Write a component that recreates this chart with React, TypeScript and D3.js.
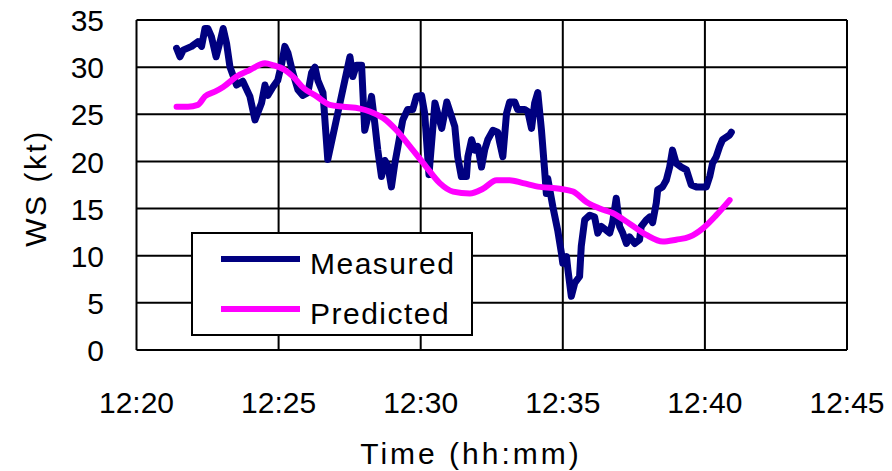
import React, { useRef, useEffect } from "react";
import * as d3 from "d3";

// minutes after 12:00
const measuredTime = [
  21.41, 21.53, 21.64, 21.94, 22.16, 22.29, 22.41, 22.51, 22.64, 22.8, 22.94, 23.05, 23.17, 23.29,
  23.52, 23.74, 23.99, 24.17, 24.4, 24.52, 24.62, 24.8, 24.97, 25.11, 25.22, 25.33, 25.5, 25.68,
  25.85, 26.03, 26.16, 26.28, 26.38, 26.56, 26.73, 27.51, 27.61, 27.74, 27.92, 28.03, 28.14, 28.27,
  28.39, 28.49, 28.62, 28.74, 28.84, 28.97, 29.09, 29.2, 29.37, 29.54, 29.72, 29.85, 30.03, 30.14,
  30.29, 30.5, 30.74, 30.92, 31.2, 31.3, 31.43, 31.61, 31.66, 31.79, 31.9, 32.01, 32.14, 32.25,
  32.36, 32.54, 32.71, 32.78, 32.89, 33.02, 33.13, 33.31, 33.41, 33.66, 33.77, 33.9, 34.01, 34.12,
  34.25, 34.36, 34.42, 34.47, 34.65, 34.82, 34.95, 35.0, 35.13, 35.18, 35.3, 35.42, 35.59, 35.65,
  35.77, 35.95, 36.12, 36.23, 36.36, 36.53, 36.65, 36.75, 36.88, 37.0, 37.11, 37.24, 37.35, 37.53,
  37.7, 37.76, 37.94, 38.06, 38.16, 38.29, 38.34, 38.51, 38.64, 38.76, 38.86, 38.99, 39.17, 39.35,
  39.52, 39.7, 40.05, 40.17, 40.27, 40.4, 40.52, 40.62, 40.87, 40.93,
];
const measuredWS = [
  32.0, 31.1, 31.8, 32.2, 32.7, 32.2, 34.1, 34.1, 33.2, 31.1, 32.7, 34.1, 32.5, 30.0,
  28.1, 28.5, 26.9, 24.4, 26.2, 28.1, 27.0, 27.9, 28.6, 30.4, 32.2, 31.5, 29.4, 27.6,
  27.0, 27.3, 29.4, 30.0, 28.6, 27.3, 20.2, 31.1, 29.0, 30.2, 30.2, 23.3, 24.7, 26.9,
  23.9, 21.2, 18.4, 20.1, 19.6, 17.3, 19.8, 21.6, 24.4, 25.5, 25.5, 26.9, 27.0, 25.1,
  18.6, 26.2, 23.5, 26.3, 23.7, 20.5, 18.4, 18.4, 20.5, 22.3, 21.2, 21.6, 19.4, 21.2,
  22.3, 23.3, 23.1, 22.0, 20.5, 25.1, 26.3, 26.3, 25.5, 25.5, 25.3, 23.5, 26.2, 27.3,
  23.3, 19.1, 16.6, 18.2, 15.2, 12.7, 10.3, 9.2, 9.9, 8.5, 5.7, 7.1, 7.8, 11.0,
  13.8, 14.3, 14.1, 12.4, 13.1, 12.7, 12.4, 13.5, 16.1, 13.1, 12.4, 11.3, 12.0, 11.3,
  11.7, 13.1, 13.8, 14.1, 13.5, 15.6, 17.0, 17.3, 18.0, 19.4, 21.2, 19.8, 19.4, 19.1,
  17.5, 17.3, 17.3, 18.4, 19.8, 20.5, 21.6, 22.3, 22.8, 23.1,
];

const predictedTime = [
  21.41, 21.81, 22.16, 22.41, 22.76, 23.05, 23.52, 23.99, 24.52, 24.81, 25.22, 25.51, 25.87,
  26.34, 26.8, 27.27, 27.86, 28.21, 28.68, 29.15, 29.62, 30.2, 30.67, 31.14, 31.73, 32.19,
  32.67, 33.13, 33.6, 34.19, 34.89, 35.36, 35.83, 36.3, 36.77, 37.35, 37.94, 38.52, 38.99,
  39.46, 39.93, 40.4, 40.87,
];
const predictedWS = [
  25.8, 25.8, 26.0, 26.9, 27.4, 27.9, 29.0, 29.7, 30.4, 30.2, 29.7, 29.0, 27.8,
  26.9, 26.0, 25.8, 25.6, 25.3, 24.6, 23.3, 21.6, 19.4, 17.7, 16.8, 16.6, 17.1,
  18.0, 18.0, 17.7, 17.3, 17.1, 16.8, 15.7, 15.0, 14.5, 13.4, 12.2, 11.5, 11.7,
  12.0, 12.9, 14.3, 15.9,
];

const xTicks = [20, 25, 30, 35, 40, 45];
const yTicks = [0, 5, 10, 15, 20, 25, 30, 35];
const seriesNames = ["Measured", "Predicted"];

const FONT = "'Liberation Sans', Arial, sans-serif";

const Chart = () => {
  const svgRef = useRef(null);

  useEffect(() => {
    const svg = d3.select(svgRef.current);
    svg.selectAll("*").remove();

    const margin = { top: 20, right: 45, bottom: 121, left: 136.5 };
    const width = 892;
    const height = 471;

    const x = d3.scaleLinear().domain([20, 45]).range([margin.left, width - margin.right]);
    const y = d3.scaleLinear().domain([0, 35]).range([height - margin.bottom, margin.top]);

    // grid
    const grid = svg.append("g").attr("stroke", "#000").attr("stroke-width", 2);
    grid
      .selectAll("line.h")
      .data(yTicks)
      .join("line")
      .attr("x1", x(20))
      .attr("x2", x(45))
      .attr("y1", (d) => y(d))
      .attr("y2", (d) => y(d));
    grid
      .selectAll("line.v")
      .data(xTicks)
      .join("line")
      .attr("x1", (d) => x(d))
      .attr("x2", (d) => x(d))
      .attr("y1", y(0))
      .attr("y2", y(35));

    // tick labels
    svg
      .append("g")
      .selectAll("text")
      .data(yTicks)
      .join("text")
      .attr("x", 104)
      .attr("y", (d) => y(d))
      .attr("dy", "0.37em")
      .attr("text-anchor", "end")
      .attr("font-family", FONT)
      .attr("font-size", 30)
      .text((d) => d);

    svg
      .append("g")
      .selectAll("text")
      .data(xTicks)
      .join("text")
      .attr("x", (d) => x(d))
      .attr("y", 413)
      .attr("text-anchor", "middle")
      .attr("font-family", FONT)
      .attr("font-size", 30)
      .text((d) => `12:${d}`);

    svg
      .append("text")
      .attr("x", 471)
      .attr("y", 464)
      .attr("text-anchor", "middle")
      .attr("font-family", FONT)
      .attr("font-size", 30)
      .attr("letter-spacing", 3)
      .text("Time (hh:mm)");

    svg
      .append("text")
      .attr("transform", "translate(46,188) rotate(-90)")
      .attr("text-anchor", "middle")
      .attr("font-family", FONT)
      .attr("font-size", 30)
      .attr("letter-spacing", 2.5)
      .text("WS (kt)");

    const line = d3
      .line()
      .x((d) => x(d[0]))
      .y((d) => y(d[1]));

    const measured = measuredTime.map((t, i) => [t, measuredWS[i]]);
    const predicted = predictedTime.map((t, i) => [t, predictedWS[i]]);

    svg
      .append("path")
      .attr("d", line(measured))
      .attr("fill", "none")
      .attr("stroke", "#000080")
      .attr("stroke-width", 7)
      .attr("stroke-linejoin", "round")
      .attr("stroke-linecap", "round");

    svg
      .append("path")
      .attr("d", line.curve(d3.curveMonotoneX)(predicted))
      .attr("fill", "none")
      .attr("stroke", "#ff00ff")
      .attr("stroke-width", 6)
      .attr("stroke-linejoin", "round")
      .attr("stroke-linecap", "round");

    // legend
    const lg = svg.append("g").attr("transform", "translate(192,233)");
    lg.append("rect")
      .attr("width", 280)
      .attr("height", 102)
      .attr("fill", "#fff")
      .attr("stroke", "#000")
      .attr("stroke-width", 2);
    const colors = ["#000080", "#ff00ff"];
    seriesNames.forEach((name, i) => {
      const cy = 26 + i * 50;
      lg.append("line")
        .attr("x1", 29)
        .attr("x2", 108)
        .attr("y1", cy)
        .attr("y2", cy)
        .attr("stroke", colors[i])
        .attr("stroke-width", 6);
      lg.append("text")
        .attr("x", 118)
        .attr("y", cy + 4)
        .attr("dy", "0.37em")
        .attr("font-family", FONT)
        .attr("font-size", 30)
        .attr("letter-spacing", 1.5)
        .text(name);
    });
  }, []);

  return (
    <svg
      ref={svgRef}
      width={892}
      height={471}
      style={{ position: "absolute", left: 0, top: 0, background: "#fff" }}
    ></svg>
  );
};

export default function App() {
  return <Chart />;
}
